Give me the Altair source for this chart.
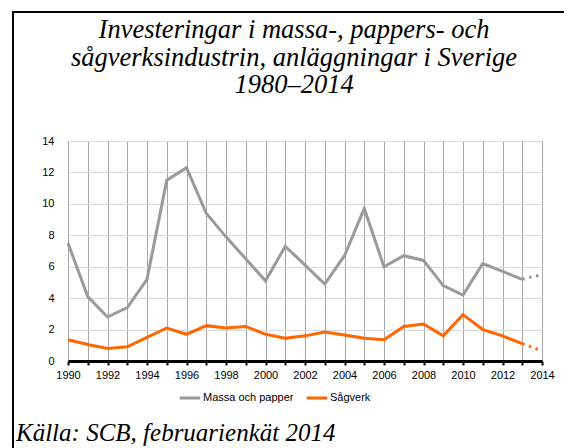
import altair as alt
import pandas as pd

years = list(range(1990, 2015))
massa = [7.5, 4.1, 2.8, 3.4, 5.2, 11.5, 12.3, 9.4, 7.9, 6.5, 5.1, 7.3, 6.1, 4.9, 6.7,
         9.7, 6.0, 6.7, 6.4, 4.8, 4.2, 6.2, 5.7, 5.2, 5.5]
sagverk = [1.35, 1.05, 0.8, 0.9, 1.5, 2.1, 1.7, 2.25, 2.1, 2.2, 1.7, 1.45, 1.6, 1.85, 1.65,
           1.45, 1.35, 2.2, 2.35, 1.6, 2.95, 2.0, 1.6, 1.1, 0.65]
series_names = ["Massa och papper", "Sågverk"]
series_colors = ["#9a9a9a", "#ff6600"]
title_lines = ["Investeringar i massa-, pappers- och",
               "sågverksindustrin, anläggningar i Sverige",
               "1980–2014"]
source_text = "Källa: SCB, februarienkät 2014"

rows = []
for y, a, b in zip(years, massa, sagverk):
    rows.append({"year": y, "value": a, "series": series_names[0]})
    rows.append({"year": y, "value": b, "series": series_names[1]})
df = pd.DataFrame(rows)
one = pd.DataFrame({"k": [0]})

W, H = 474, 220

xscale = alt.Scale(domain=[1990, 2014], nice=False, zero=False)
yscale = alt.Scale(domain=[0, 14], nice=False)
cscale = alt.Scale(domain=series_names, range=series_colors)

xaxis = alt.Axis(values=years, format="d", labelOverlap=False, labelFlush=False,
                 labelExpr="datum.value % 2 == 0 ? datum.label : ''",
                 gridColor="#a6a6a6", gridWidth=1, domainColor="#000000", domainWidth=3,
                 tickColor="#000000", tickWidth=2, tickSize=4, labelPadding=4,
                 labelFont="Liberation Sans", labelFontSize=11, labelColor="#000000",
                 title=None)
yaxis = alt.Axis(values=list(range(0, 15, 2)), labelOverlap=False, gridColor="#d9d9d9",
                 gridWidth=1, domain=False, ticks=False, labelPadding=14,
                 labelFont="Liberation Sans", labelFontSize=11, labelColor="#000000",
                 title=None)
legend = alt.Legend(title=None, orient="none", legendX=110, legendY=245,
                    direction="horizontal", symbolType="stroke",
                    symbolStrokeWidth=3, symbolSize=420, labelFont="Liberation Sans",
                    labelFontSize=11, labelColor="#000000", labelOffset=1,
                    columnPadding=6)

base = alt.Chart(df)
solid = base.transform_filter("datum.year <= 2013").mark_line(strokeWidth=3).encode(
    x=alt.X("year:Q", scale=xscale, axis=xaxis),
    y=alt.Y("value:Q", scale=yscale, axis=yaxis),
    color=alt.Color("series:N", scale=cscale, legend=legend),
)
dotted = base.transform_filter("datum.year >= 2013").mark_line(
    strokeWidth=3, strokeDash=[2.5, 4.5]).encode(
    x=alt.X("year:Q", scale=xscale, axis=xaxis),
    y=alt.Y("value:Q", scale=yscale, axis=yaxis),
    color=alt.Color("series:N", scale=cscale, legend=legend),
)

top_border = alt.Chart(one).mark_rule(color="#000000", strokeWidth=2).encode(
    x=alt.value(-56), x2=alt.value(520), y=alt.value(-129))
left_border = alt.Chart(one).mark_rule(color="#000000", strokeWidth=2).encode(
    x=alt.value(-55), y=alt.value(-130), y2=alt.value(320))
title = alt.Chart(one).mark_text(font="Liberation Serif", fontStyle="italic", fontSize=26.5,
                                 lineHeight=27.5, align="center", baseline="alphabetic",
                                 color="#000000").encode(
    x=alt.value(226), y=alt.value(-103), text=alt.value(title_lines))
footer = alt.Chart(one).mark_text(font="Liberation Serif", fontStyle="italic", fontSize=25,
                                  align="left", baseline="alphabetic", color="#000000").encode(
    x=alt.value(-52), y=alt.value(300), text=alt.value(source_text))

chart = alt.layer(top_border, left_border, solid, dotted, title, footer).properties(
    width=W, height=H,
    autosize=alt.AutoSizeParams(type="none"),
    padding={"left": 60, "top": 133, "right": 22, "bottom": 87},
).configure_view(stroke=None)

chart.save("out.html", embed_options={"renderer": "svg", "actions": False})
